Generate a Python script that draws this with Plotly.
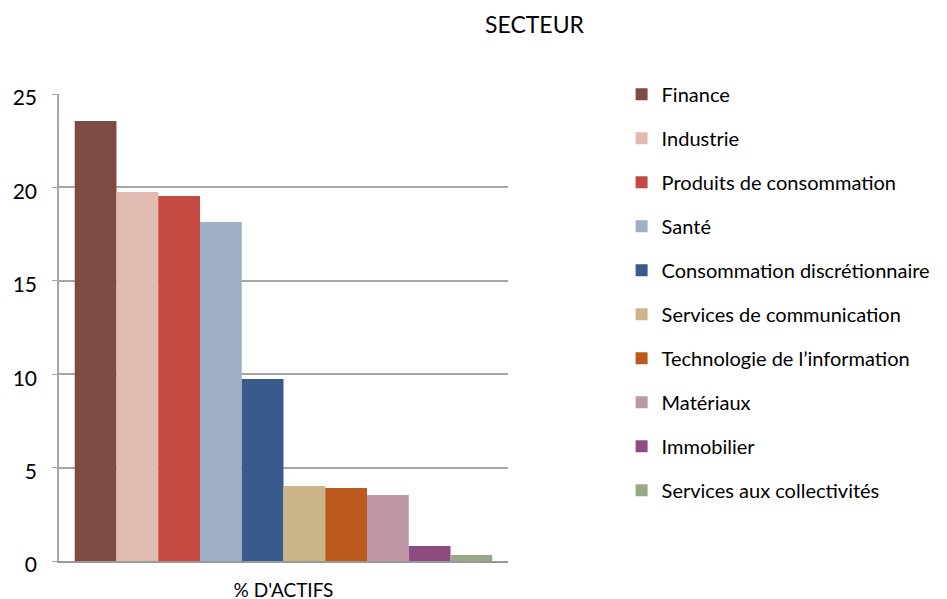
import plotly.graph_objects as go

category = ["% D'ACTIFS"]
sectors = ["Finance", "Industrie", "Produits de consommation", "Santé",
           "Consommation discrétionnaire", "Services de communication",
           "Technologie de l’information", "Matériaux", "Immobilier",
           "Services aux collectivités"]
values = [23.55, 19.75, 19.54, 18.15, 9.74, 4.01, 3.91, 3.53, 0.80, 0.32]
colors = ["#7f4a41", "#e1bbb1", "#c44a41", "#9eafc6", "#395a8d",
          "#cdb58a", "#bd5a1d", "#bf97a6", "#8e4b82", "#9aa888"]
y_ticks = [0, 5, 10, 15, 20, 25]

FONT = "Lato, Carlito, Calibri, sans-serif"

fig = go.Figure()
for i, (name, v, c) in enumerate(zip(sectors, values, colors)):
    fig.add_trace(go.Bar(x=category, y=[v], name=name, marker_color=c,
                         marker_line_width=0, legendgroup=name))

fig.update_layout(
    width=947, height=599,
    margin=dict(l=51, r=447, t=86, b=46),
    paper_bgcolor="white", plot_bgcolor="white",
    barmode="group", bargap=0.07, bargroupgap=0,
    font=dict(family=FONT, size=20, color="#000000"),
    showlegend=True,
    legend=dict(x=1.253, xanchor="left", y=1.041, yanchor="top",
                font=dict(size=20), tracegroupgap=15, maxheight=2000,
                traceorder="grouped", bgcolor="rgba(0,0,0,0)"),
    annotations=[dict(text="SECTEUR", xref="paper", yref="paper",
                      x=1.060, y=1, yshift=70, xanchor="center",
                      yanchor="middle", showarrow=False,
                      font=dict(size=23, family=FONT))],
)
fig.update_xaxes(showline=True, linecolor="#999999", linewidth=1.5,
                 showgrid=False, tickfont=dict(size=19), ticks="",
                 ticklabelstandoff=11, automargin=False)
fig.update_yaxes(range=[0, 25], tickvals=y_ticks, showline=True,
                 linecolor="#a6a6a6", linewidth=1.5, showgrid=True,
                 gridcolor="#a6a6a6", gridwidth=1.5, ticks="outside",
                 ticklen=5, tickcolor="#a6a6a6", zeroline=False,
                 ticklabelstandoff=11, ticklabelshift=4,
                 tickfont=dict(size=21), automargin=False)

fig.write_html("out.html")
